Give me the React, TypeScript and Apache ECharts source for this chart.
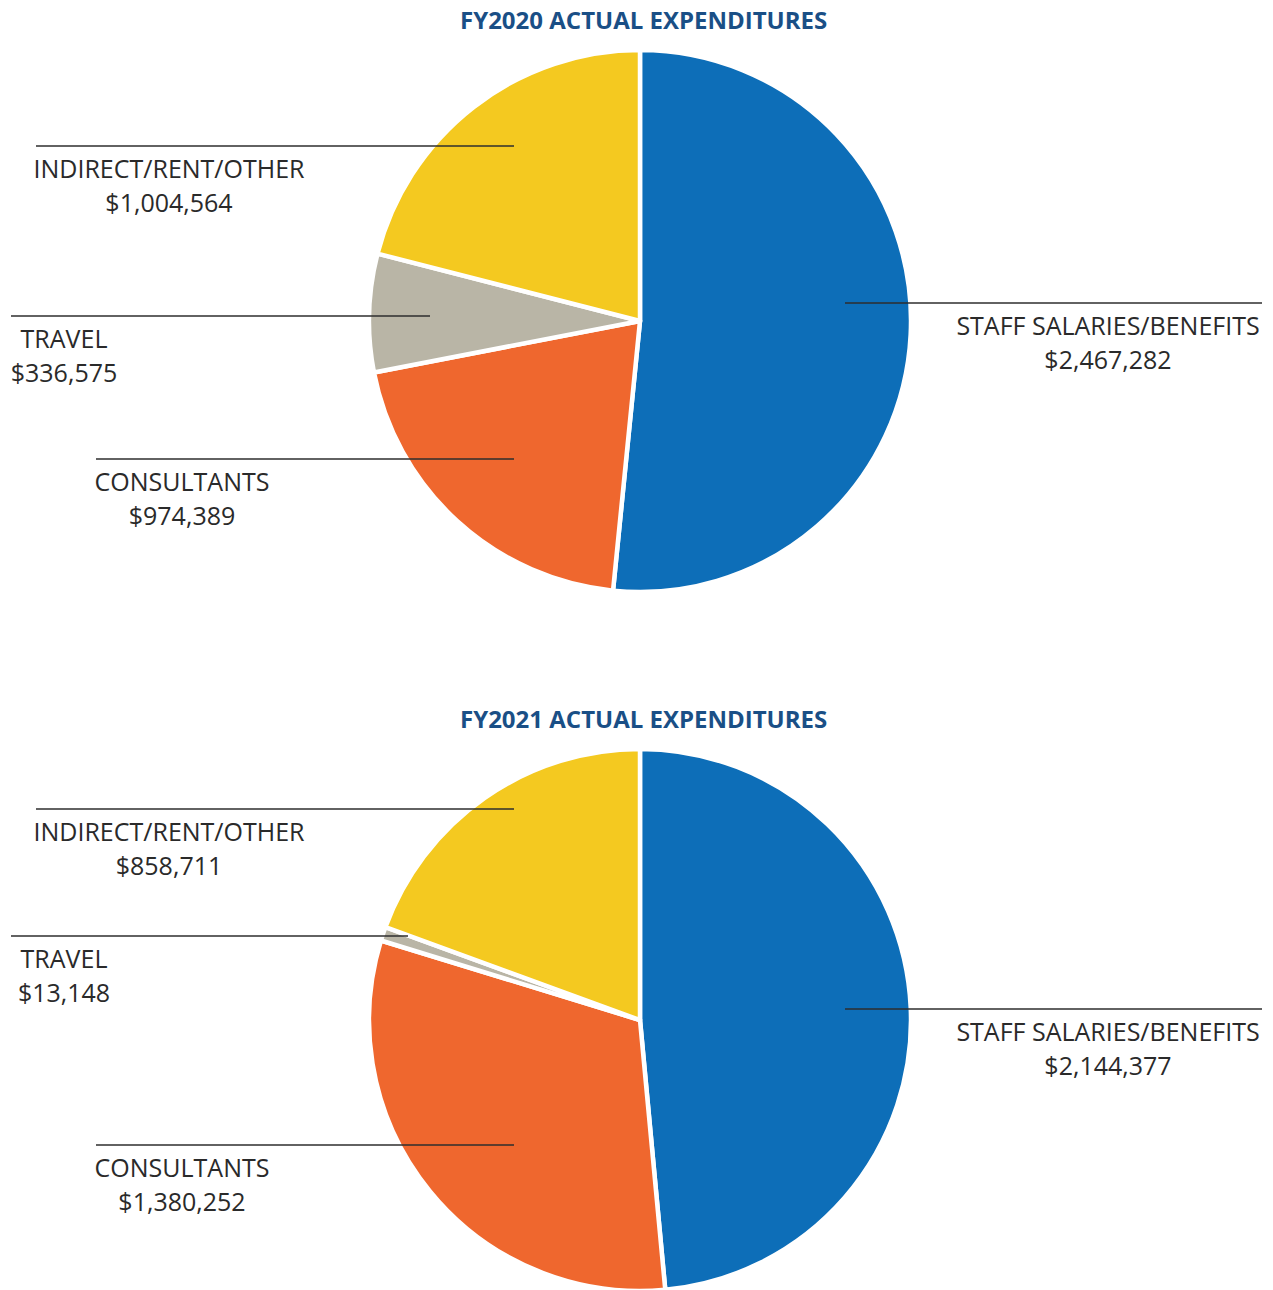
import React, { useEffect, useRef } from "react";
import * as echarts from "echarts";

const categories = ["STAFF SALARIES/BENEFITS", "CONSULTANTS", "TRAVEL", "INDIRECT/RENT/OTHER"];
const fy2020Values = [2467282, 974389, 336575, 1004564];
const fy2021Values = [2144377, 1380252, 13148, 858711];
const titles = ["FY2020 ACTUAL EXPENDITURES", "FY2021 ACTUAL EXPENDITURES"];
const colors = ["#0d6eb8", "#ef672e", "#b9b5a6", "#f4c920"];

// label leader layout: [lineX1, lineX2, lineY, textCenterX]
const layouts2020 = [
  [845, 1262, 303, 1108],
  [96, 514, 459, 182],
  [11, 430, 316, 64],
  [36, 514, 146, 169],
];
const layouts2021 = [
  [845, 1262, 1009, 1108],
  [96, 514, 1145, 182],
  [11, 408, 936, 64],
  [36, 514, 809, 169],
];

export default function App() {
  const ref = useRef<HTMLDivElement>(null);
  useEffect(() => {
    if (!ref.current) return;
    const chart = echarts.init(ref.current, null, { renderer: "svg" });
    const basePie = (cy: number) => ({
      type: "pie",
      center: [640, cy],
      radius: 271,
      startAngle: 90,
      clockwise: true,
      minAngle: 3,
      silent: true,
    });
    const slices = (vals: number[], cy: number) => ({
      ...basePie(cy),
      z: 2,
      data: categories.map((c, i) => ({ name: c, value: vals[i], itemStyle: { color: colors[i] } })),
      itemStyle: { borderColor: "#ffffff", borderWidth: 4.5 },
      label: { show: false },
      labelLine: { show: false },
    });
    const labels = (vals: number[], cy: number, lay: number[][]) => ({
      ...basePie(cy),
      z: 5,
      data: categories.map((c, i) => ({ name: c, value: vals[i] })),
      itemStyle: { color: "rgba(0,0,0,0)", borderWidth: 0 },
      label: {
        show: true,
        position: "outside",
        formatter: (p: any) => `${p.name}\n$${Number(p.value).toLocaleString("en-US")}`,
        fontFamily: "Open Sans",
        fontSize: 25,
        lineHeight: 34,
        color: "#2a2a2a",
        align: "center",
      },
      labelLine: {
        show: true,
        length: 10,
        length2: 10,
        lineStyle: { color: "#2e2e2e", width: 1.3 },
      },
      labelLayout: (params: any) => {
        const l = lay[params.dataIndex];
        return {
          x: l[3],
          y: l[2] + 5,
          align: "center",
          verticalAlign: "top",
          labelLinePoints: [
            [l[1], l[2]],
            [(l[0] + l[1]) / 2, l[2]],
            [l[0], l[2]],
          ],
        };
      },
    });
    chart.setOption({
      animation: false,
      title: titles.map((t, i) => ({
        text: t,
        left: 460,
        top: i === 0 ? 7 : 706,
        padding: 0,
        textStyle: { fontFamily: "Open Sans", fontWeight: "bold", fontSize: 24, color: "#1a4f86" },
      })),
      series: [
        slices(fy2020Values, 321),
        slices(fy2021Values, 1020),
        labels(fy2020Values, 321, layouts2020),
        labels(fy2021Values, 1020, layouts2021),
      ],
    });
    return () => chart.dispose();
  }, []);
  return <div ref={ref} style={{ position: "absolute", left: 0, top: 0, width: 1273, height: 1290 }} />;
}
